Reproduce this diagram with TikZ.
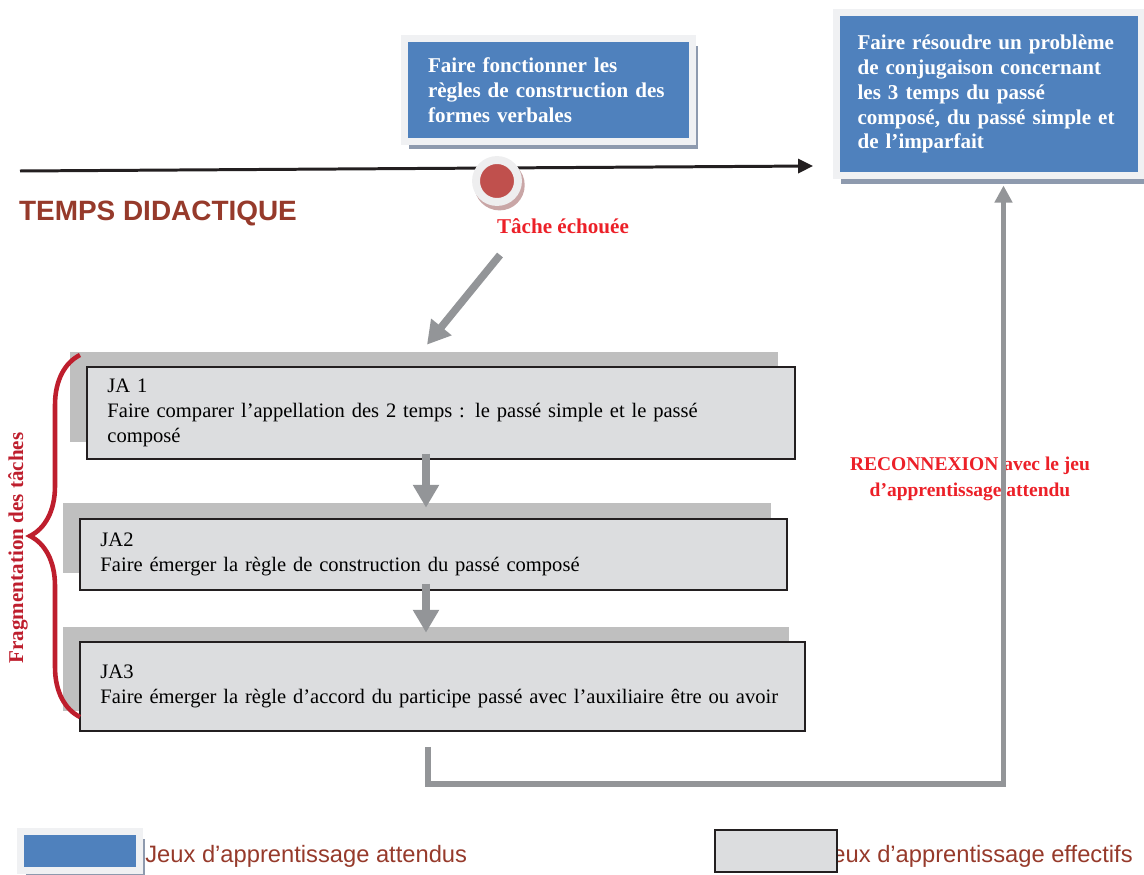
\documentclass[tikz,border=0pt]{standalone}
\usepackage{fontspec}
\setmainfont{Liberation Serif}
\setsansfont{Liberation Sans}
\usepackage{xcolor}
\usepackage{tikz}
\usetikzlibrary{shadows}
\usetikzlibrary{arrows.meta,shapes}
\usetikzlibrary{decorations.pathreplacing}
\usetikzlibrary{calc}
\definecolor{goalblue}{HTML}{4F81BD}
\definecolor{framegray}{HTML}{F0F1F3}
\definecolor{shadowblue}{HTML}{8E9AAE}
\definecolor{failred}{HTML}{C0504D}
\definecolor{ringgray}{HTML}{EEEEEF}
\definecolor{ringshadow}{HTML}{C9A6A6}
\definecolor{alertred}{HTML}{EC2028}
\definecolor{bracered}{HTML}{BE1E2D}
\definecolor{brownred}{HTML}{963A2B}
\definecolor{arrowgray}{HTML}{939598}
\definecolor{backgray}{HTML}{BFBFBF}
\definecolor{jagray}{HTML}{DCDDDF}
\definecolor{lineblack}{HTML}{231F20}
\tikzstyle{goalbox}=[rectangle,fill=goalblue,draw=framegray,line width=4pt,text=white,font=\fontsize{12}{14.2}\selectfont\bfseries,align=left,inner xsep=0.48cm,drop shadow={shadow xshift=3pt,shadow yshift=-4.5pt,fill=shadowblue,opacity=1}]
\tikzstyle{failpoint}=[circle,fill=failred,draw=ringgray,line width=4.5pt,minimum size=0.84cm,inner sep=0pt,drop shadow={shadow xshift=1.2pt,shadow yshift=-2pt,shadow scale=1.2,fill=ringshadow,opacity=1}]
\tikzstyle{backbox}=[rectangle,fill=backgray,inner sep=0pt]
\tikzstyle{jabox}=[rectangle,fill=jagray,draw=lineblack,line width=1.1pt,align=left,inner xsep=0.4cm,font=\fontsize{11.7}{14.2}\selectfont]
\tikzstyle{fatarrow}=[draw=arrowgray,line width=4.3pt,-{Triangle[width=14.2pt,length=13pt]}]
\tikzstyle{linkarrow}=[draw=arrowgray,line width=3.4pt,-{Triangle[width=9.7pt,length=9.7pt]}]
\tikzstyle{timeline}=[draw=lineblack,line width=1.7pt,-{Triangle[width=8pt,length=8.5pt]}]
\tikzstyle{redtxt}=[text=alertred,font=\fontsize{12}{14.2}\selectfont\bfseries,align=center]
\tikzset{legtxt/.style={text=brownred,font=\sffamily\fontsize{13.5}{16}\selectfont,inner sep=0pt}}

\begin{document}
\begin{tikzpicture}[x=0.02cm,y=-0.02cm]

  \def\u{0.02cm}
  \useasboundingbox (0,0) rectangle (1144,875);

  % time axis
  \coordinate (tstart) at (20,171);
  \coordinate (tend) at (813,166);
  \draw[timeline] (tstart) -- (tend);

  \node[goalbox,minimum width=5.77cm,minimum height=2.06cm,text width=4.81cm] (goal1) at (548.25,90)
       {Faire fonctionner les\\règles de construction des\\formes verbales};
  \node[goalbox,minimum width=6.11cm,minimum height=3.28cm,text width=5.25cm,inner xsep=0.42cm] (goal2) at (988.75,94)
       {Faire résoudre un problème\\de conjugaison concernant\\les 3 temps du passé\\composé, du passé simple et\\de l’imparfait};

  \node[failpoint] (fail) at (497,181) {};
  \node[redtxt] (tache) at (563,226) {Tâche échouée};
  \node[text=brownred,font=\sffamily\bfseries\fontsize{15.9}{18}\selectfont] (temps) at (158,213) {TEMPS DIDACTIQUE};

  \foreach \x/\y/\w/\h/\name in {424/397/708/90/ja1back, 417/538/708/70/ja2back, 426/669/726/84/ja3back}
  {
    \pgfmathsetmacro\ww{\w*0.02}
    \pgfmathsetmacro\hh{\h*0.02}
    \node[backbox,minimum width=\ww cm,minimum height=\hh cm] (\name) at (\x,\y) {};
  }

  \foreach \x/\y/\w/\h/\name/\txt in {441/413/708/92/ja1/{JA 1\\Faire comparer l’appellation des 2 temps : le passé simple et le passé\\composé},
        433.5/554.5/707/71/ja2/{JA2\\Faire émerger la règle de construction du passé composé},
        442.5/686.5/725/89/ja3/{JA3\\Faire émerger la règle d’accord du participe passé avec l’auxiliaire être ou avoir}}
  {
    \pgfmathsetmacro\ww{\w*0.02}
    \pgfmathsetmacro\hh{\h*0.02}
    \pgfmathsetmacro\tw{(\w-41)*0.02}
    \node[jabox,minimum width=\ww cm,minimum height=\hh cm,text width=\tw cm] (\name) at (\x,\y) {\txt};
  }

  \coordinate (drop) at (500,255);
  \draw[fatarrow] (drop) -- ([xshift=3*\u,yshift=7*\u]ja1back.north);
  \draw[fatarrow] ([xshift=-15*\u,yshift=6*\u]ja1.south) -- ([xshift=9*\u,yshift=-5*\u]ja2back.north);
  \draw[fatarrow] ([xshift=-7.5*\u,yshift=7*\u]ja2.south) -- ([yshift=-6*\u]ja3back.north);

  % fragmentation
  \draw[bracered,line width=2.6pt,decorate,decoration={brace,amplitude=1cm}] (80,717) -- (80,355);
  \node[text=bracered,font=\fontsize{12}{14.2}\selectfont\bfseries,rotate=90] (frag) at (18,548) {Fragmentation des tâches};

  \node[redtxt,font=\fontsize{11.1}{14.8}\selectfont\bfseries] (reconn) at (970,479) {RECONNEXION avec le jeu\\d’apprentissage attendu};
  \draw[linkarrow] ([xshift=-14.5*\u,yshift=-15*\u]ja3.south) -- ++(0,37) -| ([xshift=14.75*\u,yshift=-6*\u]goal2.south);

  % legend
  \node[legtxt,anchor=west] (legatt) at (145,856) {Jeux d’apprentissage attendus};
  \node[legtxt,anchor=east] (legeff) at (1133,856) {Jeux d’apprentissage effectifs};
  \node[goalbox,minimum width=2.38cm,minimum height=0.78cm,inner sep=0pt] (legblue) at (80,851) {};
  \node[jabox,minimum width=2.44cm,minimum height=0.84cm,inner sep=0pt] (leggray) at (776,851) {};

\end{tikzpicture}
\end{document}
